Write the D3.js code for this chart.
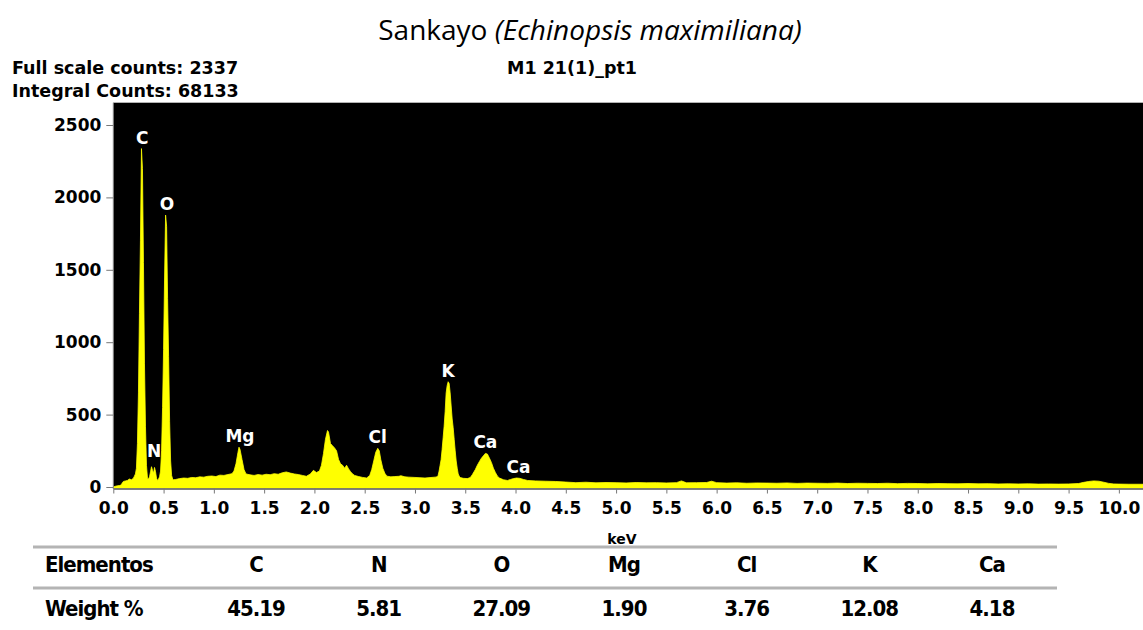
<!DOCTYPE html>
<html>
<head>
<meta charset="utf-8">
<script src="https://cdn.jsdelivr.net/npm/d3@7"></script>
<style>
  html, body { margin: 0; padding: 0; background: #ffffff; }
  svg { display: block; }
</style>
</head>
<body>
<svg id="chart" width="1143" height="630"></svg>
<script>
// ---------------- DATA ----------------
const titleMain = "Sankayo ";
const titleItalic = "(Echinopsis maximiliana)";
const infoLeft = ["Full scale counts: 2337", "Integral Counts: 68133"];
const infoSample = "M1 21(1)_pt1";
const xAxisTitle = "keV";

// spectrum: energy (keV) and counts
const energyKeV = [
  0.00,0.02,0.04,0.06,0.08,0.09,0.10,0.12,0.14,0.16,0.18,0.20,0.21,0.22,
  0.23,0.24,0.25,0.26,0.27,0.28,0.29,0.30,0.31,0.32,0.33,0.34,
  0.35,0.36,0.37,0.38,0.39,0.40,0.41,0.42,0.43,0.44,0.45,0.46,
  0.47,0.48,0.49,0.50,0.51,0.52,0.53,0.54,0.55,0.56,0.57,0.58,0.59,0.60,
  0.62,0.66,0.70,0.74,0.78,0.82,0.86,0.90,0.94,0.98,1.02,1.06,1.10,1.14,1.18,
  1.20,1.22,1.24,1.25,1.26,1.28,1.30,1.32,
  1.36,1.40,1.44,1.48,1.52,1.56,1.60,1.64,1.68,1.72,1.76,1.80,1.84,1.88,1.92,1.96,1.99,2.02,2.05,
  2.07,2.09,2.11,2.13,2.14,2.16,2.18,2.20,2.22,2.24,2.26,2.28,2.30,2.32,2.34,2.36,2.38,2.40,2.44,2.48,2.52,
  2.55,2.57,2.59,2.61,2.63,2.645,2.66,2.68,2.70,2.72,
  2.76,2.80,2.84,2.86,2.90,2.94,3.00,3.05,3.10,3.15,3.20,
  3.22,3.23,3.24,3.25,3.26,3.27,3.28,3.29,3.30,3.31,3.32,3.33,3.34,3.35,3.36,3.37,3.38,3.39,3.40,3.41,3.42,3.43,3.44,3.45,
  3.48,3.52,3.55,
  3.57,3.60,3.62,3.64,3.66,3.68,3.70,3.72,3.74,3.76,3.78,3.80,3.82,3.84,3.88,3.92,3.95,3.98,4.01,4.04,4.08,4.12,4.20,4.30,4.40,
  4.50,4.60,4.70,4.80,4.90,5.00,5.10,5.20,5.30,5.40,5.50,5.60,5.65,5.70,5.80,5.90,5.95,6.00,
  6.10,6.20,6.30,6.40,6.50,6.60,6.70,6.80,6.90,7.00,7.10,7.20,7.30,7.40,7.50,7.60,7.70,7.80,7.90,
  8.00,8.10,8.20,8.30,8.40,8.50,8.60,8.70,8.80,8.90,9.00,9.10,9.20,9.30,9.40,9.50,
  9.60,9.65,9.70,9.75,9.80,9.85,9.90,9.95,10.00,10.10,10.24
];
const counts = [
  0,5,8,10,15,30,38,42,45,55,50,60,75,90,
  130,300,650,1200,1700,2337,2200,1550,850,420,150,60,
  55,70,105,140,115,95,135,105,60,45,55,70,
  110,250,550,950,1450,1878,1800,1300,900,450,180,80,55,50,
  52,58,62,60,66,64,70,68,74,76,72,82,80,86,92,
  110,160,240,275,260,190,120,90,
  84,80,86,82,88,85,92,88,98,104,96,90,86,80,74,90,115,100,110,
  150,230,330,390,380,300,285,270,250,190,160,150,130,150,125,105,90,80,72,66,62,
  80,120,180,240,267,250,190,130,95,75,
  70,72,74,78,70,68,66,64,62,65,68,
  70,80,110,150,190,260,340,420,520,650,700,727,715,650,560,470,410,330,250,180,130,90,75,65,
  60,58,65,
  85,120,150,175,198,215,232,228,200,170,130,100,75,62,50,45,52,58,62,60,52,45,42,40,38,
  34,30,33,29,31,30,28,31,29,30,28,30,42,29,30,31,40,30,
  27,29,26,28,27,26,28,25,27,26,25,27,24,26,25,24,26,23,25,
  24,22,24,23,22,24,22,23,21,22,21,22,20,21,20,21,
  24,32,38,42,40,33,25,21,20,19,19
];

// peak labels
const peakNames  = ["C", "N", "O", "Mg", "Cl", "K", "Ca", "Ca"];
const peakKeV    = [0.287, 0.405, 0.534, 1.26, 2.63, 3.33, 3.70, 4.03];
const peakCounts = [2337, 170, 1878, 275, 267, 727, 232, 62];

// axis ticks
const yTicks = [0, 500, 1000, 1500, 2000, 2500];
const xTicks = d3.range(0, 21).map(i => i * 0.5);

// table
const tableRowLabels = ["Elementos", "Weight %"];
const tableElements = ["C", "N", "O", "Mg", "Cl", "K", "Ca"];
const tableWeights = ["45.19", "5.81", "27.09", "1.90", "3.76", "12.08", "4.18"];

// ---------------- LAYOUT ----------------
const svg = d3.select("#chart");
const plotLeft = 113.3, plotRight = 1143, plotTop = 102.7, plotZero = 487;
const x = d3.scaleLinear().domain([0, 10.24]).range([plotLeft, plotRight]);
const y = d3.scaleLinear().domain([0, 2500]).range([plotZero, 125]);

const boldFont = "'DejaVu Sans', Verdana, sans-serif";
const condFont = "'DejaVu Sans Condensed', 'DejaVu Sans', sans-serif";

// title
const title = svg.append("text")
  .attr("x", 590).attr("y", 40)
  .attr("text-anchor", "middle")
  .attr("font-family", "'Open Sans', 'Noto Sans', sans-serif")
  .attr("font-size", 28)
  .attr("fill", "#000");
title.append("tspan").text(titleMain);
title.append("tspan").attr("font-style", "italic").text(titleItalic);

// info labels
svg.selectAll("text.info").data(infoLeft).enter().append("text")
  .attr("class", "info")
  .attr("x", 12).attr("y", (d, i) => 74 + i * 23)
  .attr("font-family", boldFont).attr("font-weight", "bold")
  .attr("font-size", 17.5).attr("fill", "#000")
  .text(d => d);
svg.append("text")
  .attr("x", 507).attr("y", 74)
  .attr("font-family", boldFont).attr("font-weight", "bold")
  .attr("font-size", 17.5).attr("fill", "#000")
  .text(infoSample);

// plot background
svg.append("rect")
  .attr("x", plotLeft).attr("y", plotTop)
  .attr("width", plotRight - plotLeft).attr("height", plotZero + 1 - plotTop)
  .attr("fill", "#000");

// spectrum
const pts = energyKeV.map((e, i) => [e, counts[i]]);
const area = d3.area()
  .x(d => x(d[0]))
  .y0(plotZero + 1)
  .y1(d => y(d[1]));
svg.append("path")
  .datum(pts)
  .attr("d", area)
  .attr("fill", "#ffff00")
  .attr("stroke", "#ffff00")
  .attr("stroke-width", 0.8);

// peak labels
svg.selectAll("text.peak").data(peakNames).enter().append("text")
  .attr("class", "peak")
  .attr("x", (d, i) => x(peakKeV[i]))
  .attr("y", (d, i) => y(peakCounts[i]) - 5)
  .attr("text-anchor", "middle")
  .attr("font-family", boldFont).attr("font-weight", "bold")
  .attr("font-size", 17).attr("fill", "#fff")
  .text(d => d);

// y axis
const yAxis = svg.append("g")
  .attr("transform", `translate(${plotLeft},0)`)
  .call(d3.axisLeft(y).tickValues(yTicks).tickFormat(d3.format("d")).tickSize(7).tickPadding(5).tickSizeOuter(0));
yAxis.select(".domain").attr("stroke", "#888").attr("d", `M0,${plotTop}V${plotZero + 2}`);
yAxis.selectAll(".tick line").attr("stroke", "#777");
yAxis.selectAll(".tick text")
  .attr("font-family", boldFont).attr("font-weight", "bold")
  .attr("font-size", 17).attr("fill", "#000");

// x axis
const xAxis = svg.append("g")
  .attr("transform", `translate(0,${plotZero + 1.5})`)
  .call(d3.axisBottom(x).tickValues(xTicks).tickFormat(d3.format(".1f")).tickSize(5).tickPadding(8).tickSizeOuter(0));
xAxis.select(".domain").attr("stroke", "#555").attr("stroke-width", 1.5);
xAxis.selectAll(".tick line").attr("stroke", "#777");
xAxis.selectAll(".tick text")
  .attr("font-family", boldFont).attr("font-weight", "bold")
  .attr("font-size", 17).attr("fill", "#000");

// x axis title
svg.append("text")
  .attr("x", 622).attr("y", 544)
  .attr("text-anchor", "middle")
  .attr("font-family", boldFont).attr("font-weight", "bold")
  .attr("font-size", 14).attr("fill", "#000")
  .text(xAxisTitle);

// table
const tableFont = "'DejaVu Sans Condensed', 'Liberation Sans Narrow', sans-serif";
const col = d3.scalePoint().domain(tableElements).range([256, 992]);
[547, 588].forEach(ly => {
  svg.append("line")
    .attr("x1", 33).attr("x2", 1057).attr("y1", ly).attr("y2", ly)
    .attr("stroke", "#b4b4b4").attr("stroke-width", 3);
});
const rowY = [572, 616];
function tableText(sel) {
  sel.attr("font-family", tableFont).attr("font-size", 22)
     .attr("font-weight", 600)
     .attr("letter-spacing", -1)
     .attr("fill", "#000");
}
svg.selectAll("text.rowlab").data(tableRowLabels).enter().append("text")
  .attr("class", "rowlab")
  .attr("x", 45).attr("y", (d, i) => rowY[i])
  .call(tableText)
  .text(d => d);
svg.selectAll("text.el").data(tableElements).enter().append("text")
  .attr("class", "el")
  .attr("x", d => col(d)).attr("y", rowY[0])
  .attr("text-anchor", "middle")
  .call(tableText)
  .text(d => d);
svg.selectAll("text.wt").data(tableWeights).enter().append("text")
  .attr("class", "wt")
  .attr("x", (d, i) => col(tableElements[i])).attr("y", rowY[1])
  .attr("text-anchor", "middle")
  .call(tableText)
  .text(d => d);
</script>
</body>
</html>
